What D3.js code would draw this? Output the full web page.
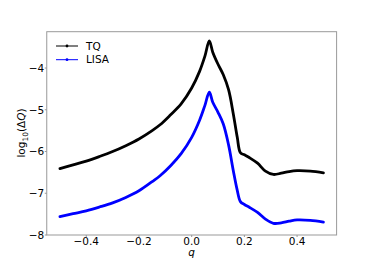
<!DOCTYPE html>
<html>
<head>
<meta charset="utf-8">
<script src="https://cdn.jsdelivr.net/npm/d3@7"></script>
<style>
  body { margin: 0; background: #fff; }
  text { font-family: "DejaVu Sans", sans-serif; }
</style>
</head>
<body>
<svg id="chart"></svg>
<script>
  const W = 374, H = 264;

  // q values (x)
  const qTQ = [-0.50, -0.45, -0.40, -0.35, -0.30, -0.25, -0.20, -0.15, -0.12, -0.08, -0.04, 0.00,
    0.03, 0.05, 0.067, 0.08, 0.10, 0.12, 0.14, 0.158, 0.173, 0.185, 0.20, 0.22, 0.25, 0.28, 0.31,
    0.34, 0.37, 0.40, 0.45, 0.50];
  const tq = [-6.41, -6.32, -6.23, -6.12, -6.00, -5.86, -5.70, -5.50, -5.36, -5.12, -4.86, -4.48,
    -4.08, -3.72, -3.35, -3.62, -3.91, -4.16, -4.52, -5.10, -5.66, -6.03, -6.08, -6.15, -6.28, -6.47, -6.55,
    -6.52, -6.48, -6.46, -6.47, -6.51];

  const qLISA = [-0.50, -0.45, -0.40, -0.35, -0.30, -0.25, -0.20, -0.15, -0.12, -0.08, -0.04, 0.00,
    0.03, 0.05, 0.067, 0.08, 0.10, 0.12, 0.14, 0.158, 0.172, 0.185, 0.20, 0.22, 0.25, 0.28, 0.31,
    0.34, 0.37, 0.40, 0.45, 0.50];
  const lisa = [-7.56, -7.49, -7.42, -7.33, -7.23, -7.10, -6.94, -6.72, -6.58, -6.34, -6.05, -5.66,
    -5.25, -4.90, -4.58, -4.82, -5.06, -5.34, -5.84, -6.46, -6.90, -7.20, -7.27, -7.34, -7.46, -7.62, -7.72,
    -7.71, -7.67, -7.64, -7.65, -7.69];

  const xTicks = [-0.4, -0.2, 0.0, 0.2, 0.4];
  const yTicks = [-8, -7, -6, -5, -4];

  const series = [
    { name: "TQ", color: "#000000", q: qTQ, v: tq },
    { name: "LISA", color: "#0000ff", q: qLISA, v: lisa }
  ];

  const L = 46.75, R = 336.6, T = 31.7, B = 235;
  const x = d3.scaleLinear().domain([-0.55, 0.55]).range([L, R]);
  const y = d3.scaleLinear().domain([-8.0, -3.13]).range([B, T]);

  const svg = d3.select("#chart").attr("width", W).attr("height", H);
  const fmt = d => d3.format(".1f")(d).replace("-", "\u2212");

  // curves (dense dot markers in the original read as a thick band)
  const line = d3.line().curve(d3.curveCatmullRom.alpha(0.5)).x(d => x(d[0])).y(d => y(d[1]));
  series.forEach(s => {
    const pts = s.q.map((q, i) => [q, s.v[i]]);
    svg.append("path").datum(pts)
      .attr("fill", "none").attr("stroke", s.color)
      .attr("stroke-width", 2.8).attr("stroke-linejoin", "round").attr("stroke-linecap", "round")
      .attr("d", line);
  });

  // frame
  svg.append("rect").attr("x", L).attr("y", T).attr("width", R - L).attr("height", B - T)
    .attr("fill", "none").attr("stroke", "#999").attr("stroke-width", 1);

  // x ticks
  const gx = svg.append("g");
  gx.selectAll("line").data(xTicks).join("line")
    .attr("x1", d => x(d)).attr("x2", d => x(d)).attr("y1", B).attr("y2", B + 2)
    .attr("stroke", "#999");
  gx.selectAll("text").data(xTicks).join("text")
    .attr("x", d => x(d)).attr("y", 245).attr("text-anchor", "middle")
    .attr("font-size", 10.5).attr("fill", "#000").text(fmt);

  // y ticks
  const gy = svg.append("g");
  gy.selectAll("line").data(yTicks).join("line")
    .attr("x1", L - 2).attr("x2", L).attr("y1", d => y(d)).attr("y2", d => y(d))
    .attr("stroke", "#999");
  gy.selectAll("text").data(yTicks).join("text")
    .attr("x", 44.3).attr("y", d => y(d)).attr("dy", "0.36em").attr("text-anchor", "end")
    .attr("font-size", 10.5).attr("fill", "#000").text(d => String(d).replace("-", "\u2212"));

  // axis labels
  svg.append("text").attr("x", x(0)).attr("y", 256).attr("text-anchor", "middle")
    .attr("font-size", 10.5).attr("font-style", "italic").attr("fill", "#000").text("q");

  const yl = svg.append("text").attr("transform", "translate(25,133) rotate(-90)")
    .attr("text-anchor", "middle").attr("font-size", 10.5).attr("fill", "#000");
  yl.append("tspan").text("log");
  yl.append("tspan").attr("font-size", 7.5).attr("dy", 2.5).text("10");
  yl.append("tspan").attr("dy", -2.5).text("(Δ");
  yl.append("tspan").attr("font-style", "italic").text("Q");
  yl.append("tspan").text(")");

  // legend
  const leg = svg.append("g").selectAll("g").data(series).join("g")
    .attr("transform", (d, i) => `translate(0,${46 + i * 13.7})`);
  leg.append("line").attr("x1", 56).attr("x2", 78).attr("y1", 0).attr("y2", 0)
    .attr("stroke", d => d.color).attr("stroke-width", 1);
  leg.append("circle").attr("cx", 67).attr("cy", 0).attr("r", 1.4).attr("fill", d => d.color);
  leg.append("text").attr("x", 86).attr("y", 0).attr("dy", "0.36em")
    .attr("font-size", 10.5).attr("fill", "#000").text(d => d.name);
</script>
</body>
</html>
